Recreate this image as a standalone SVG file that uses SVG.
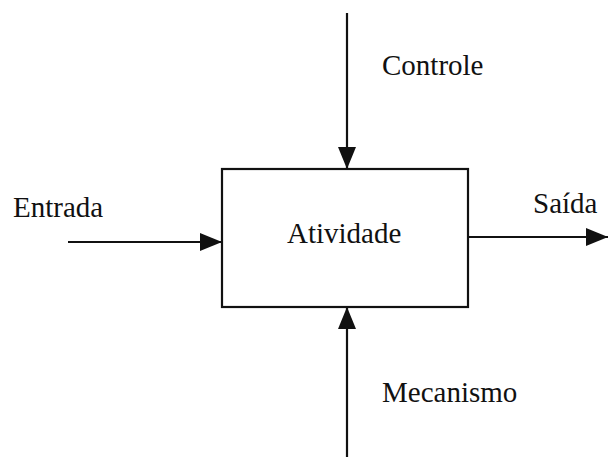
<svg xmlns="http://www.w3.org/2000/svg" width="608" height="457" viewBox="0 0 608 457">
<style>
.t{font-family:"Liberation Serif","Times New Roman",serif;font-size:29px;fill:#111}
.c{stroke:#111;stroke-width:2.2;fill:none}
.box{stroke:#111;stroke-width:2.2;fill:#fff}
</style>
<defs>
<marker id="ah" viewBox="0 0 22 18" refX="22" refY="9" markerWidth="22" markerHeight="18" markerUnits="userSpaceOnUse" orient="auto">
<path d="M0,0 L22,9 L0,18 Z" fill="#111"/>
</marker>
</defs>
<rect width="608" height="457" fill="#fff"/>
<g id="connectors">
<line class="c" x1="347" y1="13" x2="347" y2="169" marker-end="url(#ah)"/>
<line class="c" x1="347" y1="457" x2="347" y2="307" marker-end="url(#ah)"/>
<line class="c" x1="68" y1="242" x2="222" y2="242" marker-end="url(#ah)"/>
<line class="c" x1="468" y1="237" x2="608" y2="237" marker-end="url(#ah)"/>
</g>
<g id="atividade">
<rect class="box" x="222" y="169" width="246" height="138"/>
<text class="t" x="287" y="243">Atividade</text>
</g>
<g id="entrada"><text class="t" x="13" y="217">Entrada</text></g>
<g id="saida"><text class="t" x="533" y="213">Saída</text></g>
<g id="controle"><text class="t" x="382" y="75">Controle</text></g>
<g id="mecanismo"><text class="t" x="382" y="402">Mecanismo</text></g>
</svg>
